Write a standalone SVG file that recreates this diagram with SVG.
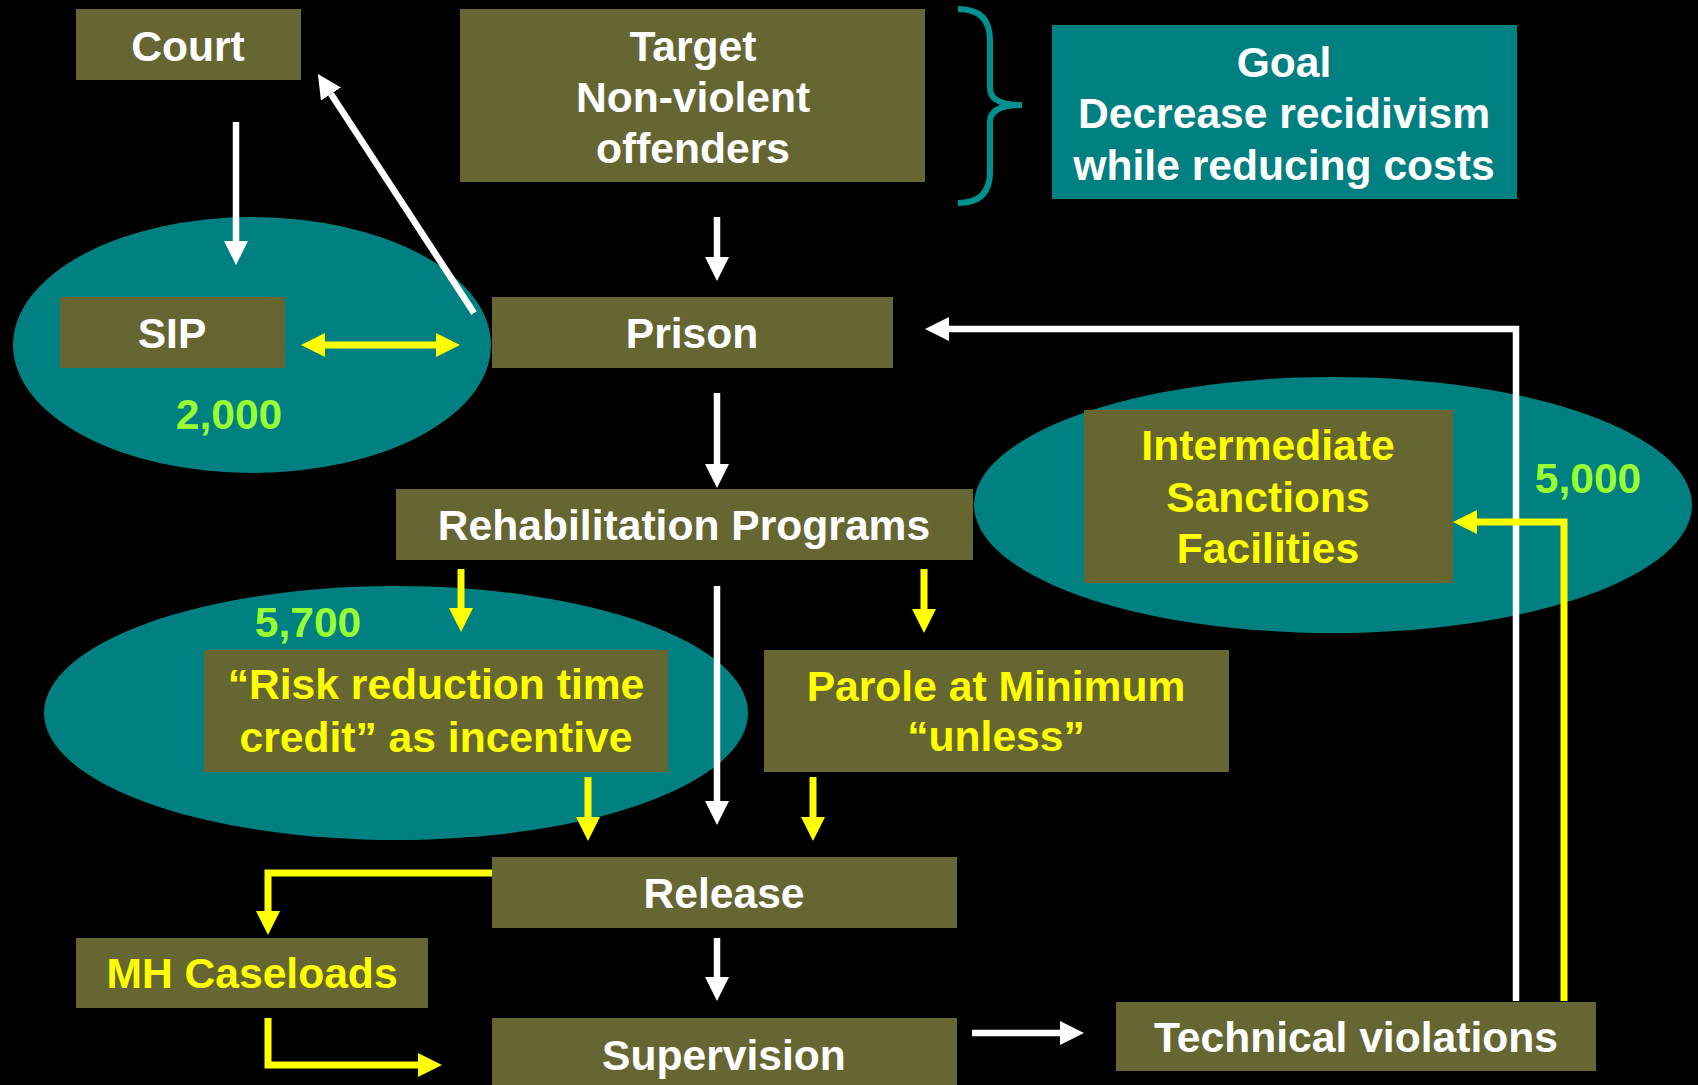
<svg xmlns="http://www.w3.org/2000/svg" width="1698" height="1085" viewBox="0 0 1698 1085">
<style>
.box{fill:#666633}
.oval{fill:#008080}
.t{font-family:"Liberation Sans",Arial,sans-serif;font-weight:bold;font-size:42.6px;text-anchor:middle}
.w{fill:#ffffff}
.y{fill:#ffff00}
.g{fill:#99ff33}
.cw{fill:none;stroke:#ffffff;stroke-width:6.5}
.cy{fill:none;stroke:#ffff00;stroke-width:7}
</style>
<defs>
<marker id="hw" markerUnits="userSpaceOnUse" markerWidth="24" markerHeight="24" refX="0" refY="12" orient="auto"><path d="M0,0 L24,12 L0,24 z" fill="#ffffff"/></marker>
<marker id="hy" markerUnits="userSpaceOnUse" markerWidth="24" markerHeight="24" refX="0" refY="12" orient="auto-start-reverse"><path d="M0,0 L24,12 L0,24 z" fill="#ffff00"/></marker>
</defs>
<rect width="1698" height="1085" fill="#000000"/>
<g id="groups">
<ellipse class="oval" cx="252" cy="345" rx="239" ry="128"/>
<ellipse class="oval" cx="1333" cy="505" rx="359" ry="128"/>
<ellipse class="oval" cx="396" cy="713" rx="352" ry="127"/>
</g>
<g id="brace">
<path d="M958 9 Q990 9 990 40 L990 88 Q990 105 1022 105 Q990 105 990 122 L990 172 Q990 203 958 203" fill="none" stroke="#009090" stroke-width="6"/>
</g>
<g id="connectors">
<path class="cw" d="M236 122 V241" marker-end="url(#hw)"/>
<path class="cw" d="M474 313 L331 94" marker-end="url(#hw)"/>
<path class="cy" d="M325 345 H436" marker-start="url(#hy)" marker-end="url(#hy)"/>
<path class="cw" d="M717 217 V257" marker-end="url(#hw)"/>
<path class="cw" d="M717 393 V464" marker-end="url(#hw)"/>
<path class="cw" d="M1516 1001 V329 H949" marker-end="url(#hw)"/>
<path class="cy" d="M1564 1001 V522 H1477" marker-end="url(#hy)"/>
<path class="cy" d="M461 569 V608" marker-end="url(#hy)"/>
<path class="cw" d="M717 586 V801" marker-end="url(#hw)"/>
<path class="cy" d="M924 569 V609" marker-end="url(#hy)"/>
<path class="cy" d="M588 777 V817" marker-end="url(#hy)"/>
<path class="cy" d="M813 777 V817" marker-end="url(#hy)"/>
<path class="cy" d="M492 873 H268 V911" marker-end="url(#hy)"/>
<path class="cw" d="M717 938 V977" marker-end="url(#hw)"/>
<path class="cy" d="M268 1018 V1065 H418" marker-end="url(#hy)"/>
<path class="cw" d="M972 1033 H1060" marker-end="url(#hw)"/>
</g>
<g id="court"><rect class="box" x="76" y="9" width="225" height="71"/><text class="t w" x="188" y="61">Court</text></g>
<g id="target"><rect class="box" x="460" y="9" width="465" height="173"/><text class="t w" x="693" y="61">Target</text><text class="t w" x="693" y="112">Non-violent</text><text class="t w" x="693" y="163">offenders</text></g>
<g id="goal"><rect class="oval" x="1052" y="25" width="465" height="174"/><text class="t w" x="1284" y="77">Goal</text><text class="t w" x="1284" y="128">Decrease recidivism</text><text class="t w" x="1284" y="180">while reducing costs</text></g>
<g id="sip"><rect class="box" x="60" y="297" width="225" height="71"/><text class="t w" x="172" y="348">SIP</text><text class="t g" x="229" y="429">2,000</text></g>
<g id="prison"><rect class="box" x="492" y="297" width="401" height="71"/><text class="t w" x="692" y="348">Prison</text></g>
<g id="rehab"><rect class="box" x="396" y="489" width="577" height="71"/><text class="t w" x="684" y="540">Rehabilitation Programs</text></g>
<g id="sanctions"><rect class="box" x="1084" y="410" width="369" height="173"/><text class="t y" x="1268" y="460">Intermediate</text><text class="t y" x="1268" y="512">Sanctions</text><text class="t y" x="1268" y="563">Facilities</text><text class="t g" x="1588" y="493">5,000</text></g>
<g id="risk"><rect class="box" x="204" y="650" width="464" height="122"/><text class="t y" x="436" y="699">“Risk reduction time</text><text class="t y" x="436" y="752">credit” as incentive</text><text class="t g" x="308" y="637">5,700</text></g>
<g id="parole"><rect class="box" x="764" y="650" width="465" height="122"/><text class="t y" x="996" y="701">Parole at Minimum</text><text class="t y" x="996" y="751">“unless”</text></g>
<g id="release"><rect class="box" x="492" y="857" width="465" height="71"/><text class="t w" x="724" y="908">Release</text></g>
<g id="mh"><rect class="box" x="76" y="938" width="352" height="70"/><text class="t y" x="252" y="988">MH Caseloads</text></g>
<g id="supervision"><rect class="box" x="492" y="1018" width="465" height="80"/><text class="t w" x="724" y="1070">Supervision</text></g>
<g id="technical"><rect class="box" x="1116" y="1002" width="480" height="69"/><text class="t w" x="1356" y="1052">Technical violations</text></g>
</svg>
